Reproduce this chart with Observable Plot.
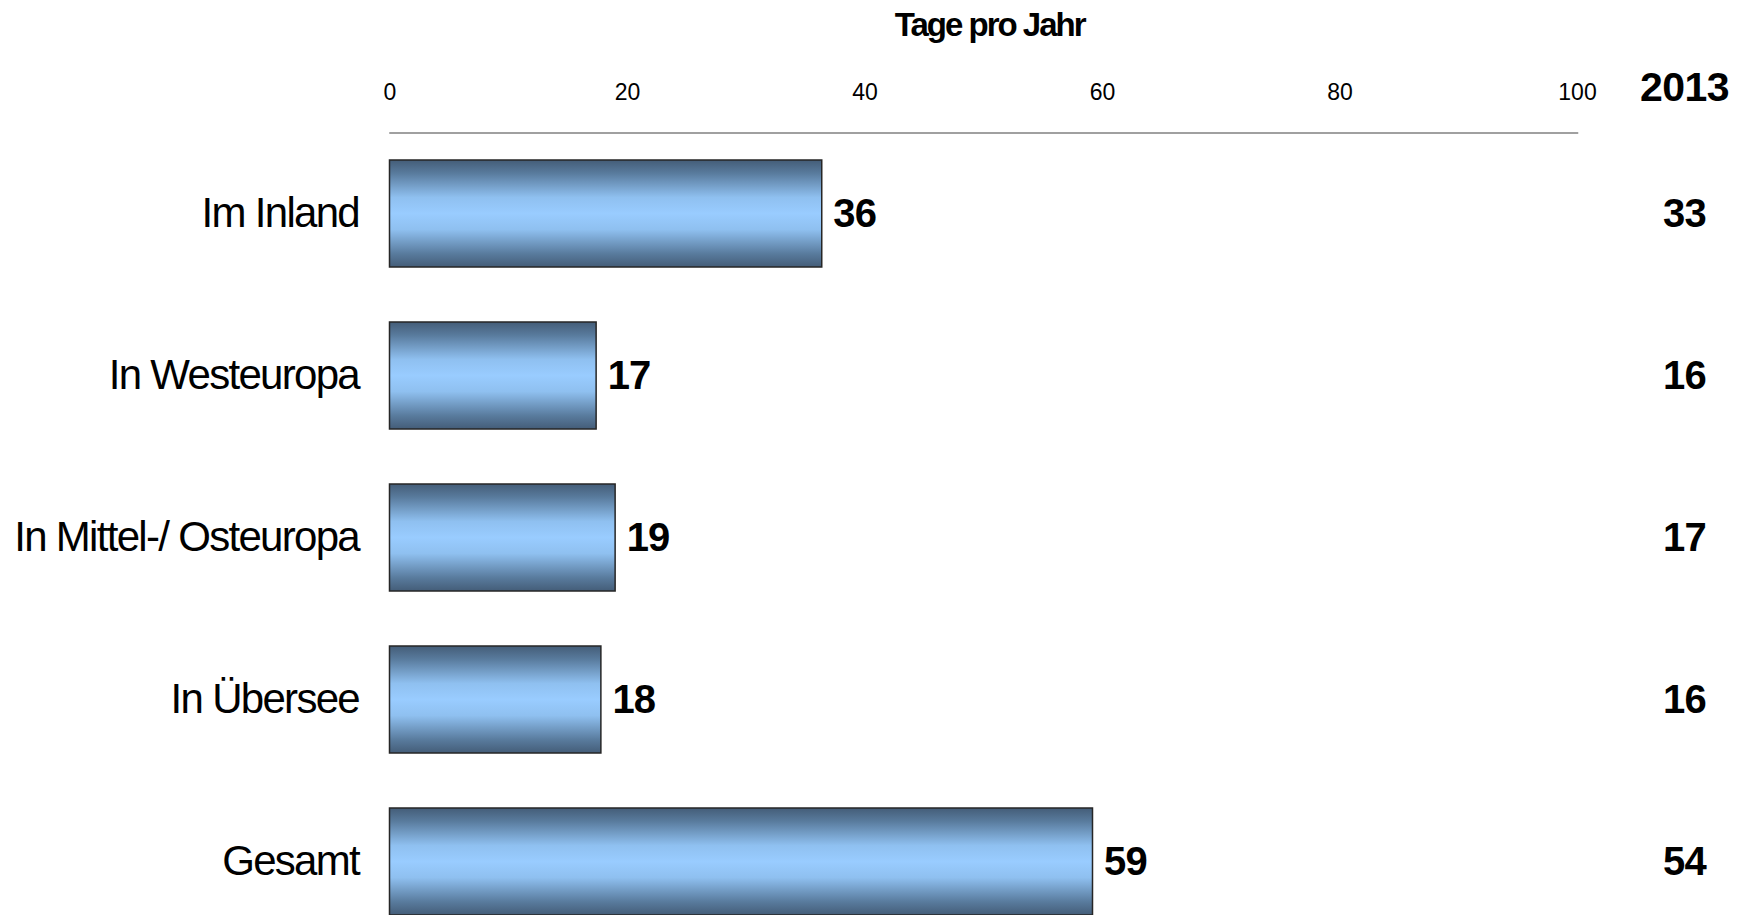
<!DOCTYPE html>
<html>
<head>
<meta charset="utf-8">
<script src="https://cdn.jsdelivr.net/npm/d3@7"></script>
<script src="https://cdn.jsdelivr.net/npm/@observablehq/plot@0.6"></script>
<style>
  html, body { margin: 0; padding: 0; background: #fff; overflow: hidden; }
  body { font-family: "Liberation Sans", Arial, sans-serif; width: 1742px; height: 915px; position: relative; }
  #title { position: absolute; top: 0; left: 989.7px; transform: translateX(-50%); height: 50px; line-height: 50px;
           font-size: 33px; font-weight: bold; letter-spacing: -2px; white-space: nowrap; color: #000; }
  #chart { position: absolute; top: 50px; left: 0; }
  #chart svg { font-family: "Liberation Sans", Arial, sans-serif; overflow: visible; }
</style>
</head>
<body>
<div id="title"></div>
<div id="chart"></div>
<script>
const axisTitle = "Tage pro Jahr";
const categories = ["Im Inland", "In Westeuropa", "In Mittel-/ Osteuropa", "In Übersee", "Gesamt"];
const values = [36.4, 17.4, 19.0, 17.8, 59.2];
const valueLabels = ["36", "17", "19", "18", "59"];
const prevYear = "2013";
const prevValues = ["33", "16", "17", "16", "54"];
const xTicks = [0, 20, 40, 60, 80, 100];

document.getElementById("title").textContent = axisTitle;

const data = categories.map((c, i) => ({cat: c, value: values[i], label: valueLabels[i], prev: prevValues[i]}));

const chart = Plot.plot({
  width: 1742,
  height: 893,
  marginTop: 82.5,
  marginBottom: 0,
  marginLeft: 389.5,
  marginRight: 165,
  x: {domain: [0, 100], axis: null},
  y: {domain: categories, paddingInner: 0.34, paddingOuter: 0.17, axis: null},
  marks: [
    Plot.frame({anchor: "top", stroke: "#808080", strokeWidth: 1.5}),
    Plot.barX(data, {x: "value", y: "cat", fill: "url(#barGrad)", stroke: "#262626", strokeWidth: 1.5}),
    Plot.text(data, {x: "value", y: "cat", text: "label", textAnchor: "start", dx: 11, fontSize: 40, fontWeight: "bold", fill: "#000"}),
    Plot.text(data, {y: "cat", text: "cat", frameAnchor: "left", textAnchor: "end", dx: -31, fontSize: 42, fill: "#000"}),
    Plot.text(data, {y: "cat", text: "prev", frameAnchor: "right", textAnchor: "middle", dx: 107, fontSize: 40, fontWeight: "bold", fill: "#000"}),
    Plot.text(xTicks, {x: d => d, text: d => String(d), frameAnchor: "top", lineAnchor: "middle", dy: -39.9, fontSize: 23, fill: "#000"}),
    Plot.text([prevYear], {text: d => d, frameAnchor: "top-right", lineAnchor: "middle", textAnchor: "middle", dx: 107, dy: -45.6, fontSize: 41, fontWeight: "bold", fill: "#000"})
  ]
});

const defs = d3.select(chart).insert("defs", ":first-child");
const grad = defs.append("linearGradient").attr("id", "barGrad")
  .attr("x1", 0).attr("y1", 0).attr("x2", 0).attr("y2", 1);
[[0, "#445d78"], [0.12, "#587a9c"], [0.35, "#8fc0f0"], [0.5, "#99ccff"], [0.65, "#8fc0f0"], [0.88, "#587a9c"], [1, "#445d78"]]
  .forEach(([o, c]) => grad.append("stop").attr("offset", o).attr("stop-color", c));

// letter-spacing per text mark (order: values, categories, 2013 values, ticks, header)
const spacing = ["-0.8px", "-1.7px", "-0.8px", "0px", "-0.5px"];
d3.select(chart).selectAll('g[aria-label="text"]').each(function (d, i) {
  d3.select(this).style("letter-spacing", spacing[i] || "0px");
});

document.getElementById("chart").appendChild(chart);
</script>
</body>
</html>
